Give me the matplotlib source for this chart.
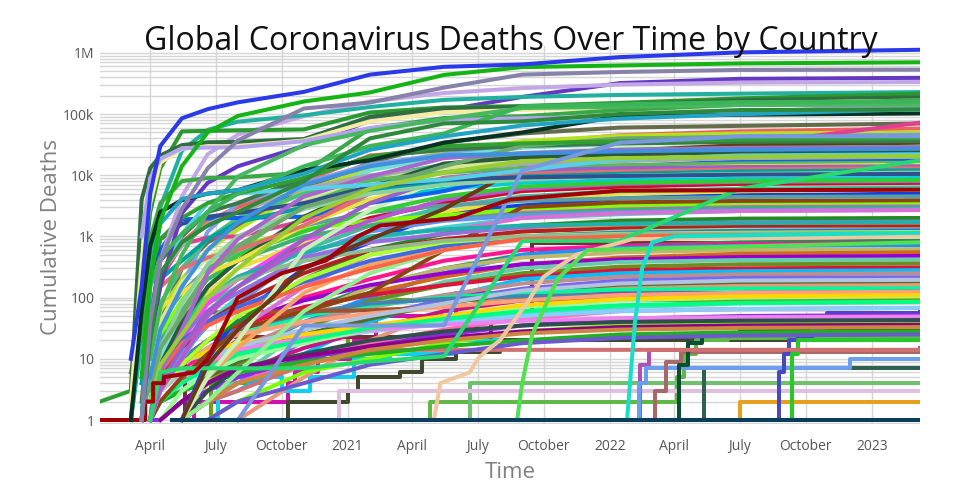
import numpy as np
import pandas as pd
import matplotlib
matplotlib.use('Agg')
import matplotlib.pyplot as plt
from matplotlib.ticker import LogLocator, FixedLocator, NullFormatter

N = None

# common sample dates for the smooth country curves
grid_dates = ['2020-01-22', '2020-03-05', '2020-03-20', '2020-04-01', '2020-04-15', '2020-05-15', '2020-06-20',
              '2020-08-01', '2020-11-01', '2021-02-01', '2021-05-15', '2021-09-01', '2022-01-15', '2022-07-01',
              '2023-03-09']

# countries above 100k
top_colors = ['#6438c0', '#c4a8e6', '#22b0a0', '#2a9a30', '#2f6e40', '#f4eca0', '#3aa846', '#b4a4ee',
              '#48b860', '#063222', '#3cb458', '#20a4c4', '#2e8a3a', '#8682aa', '#14b414', '#2a3ae8']
top_values = [
    [N, N, 1, 20, 150, 2400, 7500, 14000, 30000, 78000, 115000, 190000, 320000, 375000, 390000],
    [N, N, 1, 30, 400, 4500, 22000, 46000, 92000, 160000, 220000, 265000, 302000, 326000, 333000],
    [N, 1, 20, 300, 3000, 25000, 55000, 75000, 95000, 130000, 170000, 190000, 205000, 215000, 228000],
    [N, 1, 150, 2500, 13000, 52000, 53000, 54000, 56000, 106000, 128000, 135000, 152000, 180000, 215000],
    [N, 3, 4000, 13000, 21000, 31000, 34500, 35000, 39000, 90000, 124000, 129000, 142000, 168000, 188000],
    [N, 2, 400, 3500, 16000, 27000, 29500, 30000, 37000, 76000, 107000, 116000, 128000, 150000, 166000],
    [N, N, 20, 900, 3500, 8000, 9000, 9200, 11000, 58000, 86000, 92000, 116000, 141000, 168000],
    [N, N, 1000, 9000, 18500, 27500, 28300, 28500, 36000, 59000, 79000, 85000, 90000, 108000, 140000],
    [N, N, N, 10, 70, 500, 2500, 9500, 31000, 53000, 83000, 125000, 131000, 140000, 142000],
    [N, 1, 60, 700, 2500, 3900, 5000, 5700, 12000, 17600, 34000, 50000, 92000, 97000, 102000],
    [N, N, 1, 150, 450, 1100, 2500, 5000, 14000, 30000, 48000, 134000, 144000, 156000, 160000],
    [N, N, 1, 200, 1600, 4100, 5000, 5700, 10600, 26000, 43000, 65000, 84000, 99000, 120000],
    [N, N, 1, 20, 250, 800, 1500, 2500, 8000, 40000, 70000, 76000, 100000, 116000, 119000],
    [N, N, 1, 40, 400, 2800, 13000, 37000, 123000, 154000, 270000, 440000, 486000, 525000, 531000],
    [N, N, 5, 200, 1800, 14000, 50000, 93000, 160000, 225000, 435000, 583000, 621000, 671000, 699000],
    [N, 10, 150, 5000, 30000, 85000, 120000, 155000, 230000, 440000, 590000, 645000, 850000, 1015000, 1120000],
]

# countries between 10k and 100k
mid_colors = ['#646c4c', '#f06060', '#b8e020', '#80a0e8', '#e04090', '#70e0d0', '#c8f0b8', '#683818',
              '#3a7a4a', '#48c080', '#1060f0', '#a8a8a8', '#d4e890', '#2a5a3a', '#5cb85c', '#f0e040',
              '#9a60c8', '#e07070', '#00a0a0', '#8fd0a0', '#305090', '#6fa86f', '#aa66cc', '#56d0e8',
              '#4090e0', '#9acd32', '#30a030', '#28d870', '#7898e0']
mid_values = [
    [N, N, N, 5, 40, 300, 800, 1500, 6000, 16000, 34000, 48000, 60000, 64000, 70000],
    [N, N, 1, 20, 200, 800, 1800, 3000, 8000, 21000, 26000, 33000, 45000, 52000, 58000],
    [N, N, N, 10, 60, 200, 600, 1300, 5600, 12500, 24000, 36000, 44000, 48000, 50000],
    [N, N, N, 3, 30, 150, 1200, 3500, 7500, 15000, 22000, 30000, 38000, 43000, 46000],
    [N, 6, 33, 60, 200, 740, 960, 1000, 1800, 5700, 11800, 16100, 18400, 31000, 72000],
    [N, N, N, 1, 10, 60, 250, 600, 4000, 12000, 20000, 28000, 33000, 36000, 38000],
    [N, N, N, N, N, 1, 5, 20, 600, 2700, 9000, 23000, 28000, 29500, 31000],
    [N, N, N, N, N, 1, 8, 30, 300, 900, 2800, 14000, 25000, 31000, 34000],
    [N, N, 2, 50, 400, 1000, 2500, 3500, 9000, 20000, 26000, 30000, 33000, 35000, 36000],
    [N, N, N, 10, 80, 300, 900, 2000, 5000, 9000, 15000, 22000, 26000, 28000, 29000],
    [N, N, 1, 30, 600, 1900, 1960, 2000, 2100, 3500, 5500, 10500, 14000, 16800, 17500],
    [N, N, 1, 30, 250, 700, 1600, 2500, 6000, 10000, 12500, 15000, 17000, 19000, 20000],
    [N, N, N, 8, 40, 180, 450, 900, 3800, 8000, 13000, 18000, 23000, 25000, 26000],
    [N, N, N, 1, 8, 40, 150, 400, 2100, 6500, 15500, 19500, 22000, 23500, 24000],
    [N, N, N, 2, 15, 60, 250, 600, 3300, 8200, 11000, 13000, 14600, 15500, 16000],
    [N, N, 1, 20, 70, 120, 250, 400, 1500, 4000, 8000, 10000, 12500, 14000, 14800],
    [N, N, N, 1, 4, 15, 60, 150, 900, 3500, 9000, 12000, 13000, 13600, 14000],
    [N, N, 5, 40, 150, 300, 450, 600, 1500, 5000, 9000, 10500, 11500, 12500, 13000],
    [N, N, 4, 60, 200, 400, 900, 1700, 3000, 5500, 7800, 9500, 10500, 11500, 12000],
    [N, N, N, 2, 15, 80, 350, 1000, 2800, 5000, 7000, 8500, 9800, 10500, 11000],
    [N, 1, 30, 200, 900, 1600, 2100, 2400, 3500, 6500, 8500, 9200, 9700, 10200, 10500],
    [N, N, N, 3, 15, 50, 250, 700, 3000, 6000, 14000, 30000, 40000, 42000, 44000],
    [N, N, N, 1, 6, 30, 250, 900, 4500, 9500, 19000, 23000, 26000, 27500, 28500],
    [N, N, 1, 15, 200, 1100, 3500, 5000, 6000, 7000, 8500, 12000, 18000, 21000, 22000],
    [N, N, N, 5, 30, 150, 600, 1700, 7000, 14000, 21000, 22500, 24500, 26000, 27000],
    [N, N, N, 2, 8, 25, 100, 300, 2000, 6000, 11000, 17000, 19000, 20000, 20500],
    [2, 3, 30, 300, 900, 2000, 3500, 5000, 9000, 20000, 30000, 33000, 36000, 38000, 40000],
    [N, N, N, 1, 6, 7, 7, 7, 7, 9, 11, 840, 850, 6000, 17500],
    [N, N, N, N, N, N, N, 1, 35, 35, 35, 12000, 34000, 43000, 43200],
]

# countries between 1k and 10k
low_colors = ['#c8102e', '#1040e0', '#e8e040', '#40c0a0', '#ff40ff', '#7fff00', '#8b4513', '#48d1cc',
              '#3cb371', '#6495ed', '#da70d6', '#228b22', '#9370db', '#f4a460', '#20b2aa', '#b22222',
              '#90ee90', '#4169e1', '#adff2f', '#8fbc8f', '#ff6347', '#5f9ea0', '#00ced1', '#ba55d3',
              '#32cd32']
low_values = [
    [N, N, N, 1, 10, 40, 100, 200, 800, 2000, 3500, 5500, 6500, 7200, 7500],
    [N, N, N, N, N, 1, 10, 50, 300, 800, 2500, 3200, 4200, 4700, 5000],
    [N, N, 1, 5, 15, 40, 120, 300, 800, 1500, 2500, 4000, 5000, 5500, 5800],
    [N, N, N, 2, 10, 30, 80, 150, 600, 1500, 3000, 4500, 5500, 6000, 6300],
    [N, N, N, 1, 5, 20, 80, 200, 900, 1500, 2000, 2600, 3000, 3300, 3400],
    [N, N, N, 3, 25, 90, 300, 700, 1300, 1800, 2200, 2800, 3200, 3500, 3600],
    [N, N, N, 1, 2, 5, 12, 30, 60, 120, 600, 3000, 3600, 3800, 3900],
    [N, N, N, 1, 3, 10, 40, 100, 400, 900, 1400, 2000, 2300, 2600, 2700],
    [N, N, N, 4, 20, 60, 200, 400, 1000, 1500, 1900, 2300, 2700, 2900, 3000],
    [N, N, N, 1, 4, 12, 35, 80, 500, 1200, 1800, 2200, 2500, 2700, 2800],
    [N, N, N, N, N, 1, 8, 30, 150, 500, 1200, 2000, 2400, 2600, 2700],
    [N, N, N, 2, 4, 8, 20, 40, 200, 600, 1100, 1500, 1800, 1950, 2000],
    [N, N, N, 1, 8, 25, 60, 120, 450, 800, 1100, 1400, 1600, 1700, 1750],
    [N, N, N, N, N, 1, 5, 15, 120, 350, 700, 1200, 1500, 1600, 1650],
    [N, N, N, 1, 15, 45, 100, 220, 550, 1000, 1300, 1500, 1600, 1650, 1700],
    [N, N, N, 1, 5, 15, 40, 80, 250, 600, 900, 1200, 1350, 1420, 1450],
    [N, N, N, N, N, 1, 2, 6, 60, 250, 600, 1000, 1200, 1280, 1300],
    [N, N, N, 2, 8, 20, 40, 70, 180, 400, 700, 1000, 1150, 1230, 1260],
    [N, N, N, 1, 3, 8, 20, 50, 200, 500, 800, 1000, 1100, 1150, 1180],
    [N, N, N, 3, 15, 40, 100, 200, 400, 600, 850, 1000, 1080, 1120, 1140],
    [N, N, N, 1, 6, 18, 35, 60, 150, 300, 600, 900, 1000, 1050, 1080],
    [N, N, 1, 5, 40, 120, 300, 500, 1500, 2500, 3200, 3800, 4200, 4400, 4500],
    [N, N, N, 1, 6, 30, 150, 400, 2000, 4000, 6000, 7500, 8300, 8700, 9000],
    [N, N, N, 1, 3, 10, 50, 150, 700, 1800, 4000, 6000, 7200, 7800, 8000],
    [N, N, N, 2, 10, 35, 150, 500, 1200, 2500, 4500, 6500, 7500, 8000, 8300],
]

# countries under 1k
small_colors = ['#2e8b57', '#ff1493', '#1e90ff', '#bdb76b', '#d2691e', '#9400d3', '#66cdaa', '#6b8e23',
                '#dc143c', '#00bfff', '#bc8f8f', '#7b68ee', '#556b2f', '#e9967a', '#00fa9a', '#c71585',
                '#4682b4', '#a0522d', '#40e0d0', '#ff69b4', '#8a2be2', '#7cfc00', '#d07070', '#20b020',
                '#6a5acd', '#ffa07a', '#87cefa', '#98fb98', '#ee82ee', '#2f4f4f', '#ffd700', '#8b008b',
                '#00ff7f', '#cd853f', '#b0c4de']
small_values = [
    [N, N, N, N, N, 1, 6, 20, 60, 150, 300, 500, 700, 800, 850],
    [N, N, N, 1, 3, 6, 15, 30, 100, 200, 400, 600, 700, 750, 780],
    [N, N, N, 1, 2, 3, 6, 12, 40, 100, 250, 500, 650, 700, 720],
    [N, N, N, N, N, 1, 4, 10, 50, 150, 300, 450, 550, 600, 620],
    [N, N, N, 1, 2, 5, 10, 20, 60, 120, 220, 350, 450, 520, 550],
    [N, N, N, 2, 5, 10, 20, 40, 90, 160, 250, 350, 420, 460, 480],
    [N, N, N, N, N, 1, 2, 5, 30, 80, 180, 300, 380, 410, 420],
    [N, N, N, 1, 1, 2, 4, 8, 30, 90, 160, 250, 320, 350, 360],
    [N, N, N, 1, 4, 10, 20, 35, 70, 110, 160, 220, 280, 300, 310],
    [N, N, N, N, N, 1, 2, 3, 12, 40, 100, 200, 250, 270, 280],
    [N, N, N, 1, 2, 4, 8, 15, 40, 70, 110, 170, 220, 240, 250],
    [N, N, N, N, N, 1, 2, 4, 20, 50, 90, 140, 190, 210, 215],
    [N, N, N, 1, 2, 3, 5, 9, 25, 45, 80, 120, 160, 175, 180],
    [N, N, N, N, N, N, N, 1, 5, 20, 60, 110, 140, 155, 160],
    [N, N, N, 1, 4, 8, 15, 25, 50, 75, 100, 120, 135, 140, 142],
    [N, N, N, 1, 1, 2, 4, 6, 15, 30, 60, 90, 110, 120, 125],
    [N, N, N, 2, 6, 10, 20, 30, 55, 80, 95, 105, 112, 115, 118],
    [N, N, N, 1, 30, 55, 57, 58, 60, 62, 70, 90, 100, 105, 108],
    [N, N, N, 1, 2, 3, 6, 10, 20, 30, 40, 55, 70, 80, 85],
    [N, N, N, N, N, 1, 2, 4, 10, 18, 30, 45, 60, 65, 68],
    [N, N, N, 1, 1, 2, 3, 5, 10, 16, 25, 35, 45, 50, 52],
    [N, N, N, N, N, 1, 1, 2, 6, 10, 18, 28, 35, 38, 40],
    [N, N, N, N, N, 1, 2, 3, 8, 14, 14, 14, 14, 14, 14],
    [N, N, N, 1, 2, 3, 4, 6, 9, 12, 16, 20, 25, 27, 28],
    [N, N, N, N, N, 1, 1, 2, 4, 8, 12, 18, 22, 24, 25],
    [N, N, N, 1, 3, 8, 15, 25, 40, 55, 70, 90, 110, 120, 125],
    [N, N, N, 2, 5, 9, 12, 15, 20, 28, 38, 50, 60, 65, 68],
    [N, N, N, N, 1, 3, 6, 10, 18, 30, 45, 70, 90, 100, 105],
    [N, N, N, 1, 2, 5, 9, 14, 22, 30, 36, 42, 46, 48, 49],
    [N, N, N, N, N, 1, 3, 7, 12, 20, 28, 35, 40, 42, 43],
    [N, N, N, 1, 4, 9, 13, 18, 25, 35, 50, 75, 95, 105, 110],
    [N, N, N, N, 1, 2, 4, 7, 11, 16, 22, 28, 33, 35, 36],
    [N, N, N, 1, 2, 4, 7, 12, 20, 32, 45, 60, 75, 82, 85],
    [N, N, N, N, N, 1, 2, 4, 8, 14, 20, 26, 30, 32, 33],
    [N, N, N, 1, 3, 6, 10, 16, 30, 50, 80, 130, 170, 190, 195],
]

# countries with few deaths, drawn as steps
step_colors = ['#d010b0', '#10d0f0', '#70a010', '#404830', '#60b848', '#70c070', '#e0c0e0', '#7a2a38',
               '#b050b0', '#306050', '#6a9ef0', '#a86868', '#0a5030', '#e8a020', '#4848c0', '#28c828']
step_dates = [
    ['2020-05-15', '2020-06-01', '2020-10-10', '2020-10-20', '2020-11-20', '2021-01-10', '2021-02-10', '2021-06-01', '2023-03-09'],
    ['2020-07-01', '2020-07-05', '2020-10-01', '2020-11-10', '2021-01-10', '2021-03-01', '2021-06-01', '2023-03-09'],
    ['2020-06-15', '2020-06-25', '2020-09-01', '2020-10-15', '2020-12-10', '2021-01-01', '2021-02-01', '2023-03-09'],
    ['2020-10-01', '2020-10-10', '2021-01-01', '2021-01-15', '2021-03-15', '2021-04-15', '2021-06-01', '2021-08-01', '2023-03-09'],
    ['2021-04-15', '2021-04-25', '2022-03-25', '2022-04-05', '2022-04-15', '2022-05-01', '2022-06-15', '2023-03-09'],
    ['2021-06-10', '2021-06-20', '2023-03-09'],
    ['2020-11-15', '2020-12-20', '2023-03-09'],
    ['2020-05-01', '2020-05-20', '2020-07-01', '2021-07-20', '2021-09-15', '2023-03-09'],
    ['2022-02-05', '2022-02-12', '2022-02-25', '2023-03-09'],
    ['2022-05-08', '2022-05-12', '2023-03-09'],
    ['2022-02-01', '2022-02-10', '2022-02-20', '2022-10-25', '2022-12-01', '2023-03-09'],
    ['2022-02-15', '2022-03-05', '2022-03-20', '2022-04-10', '2023-03-09'],
    ['2022-03-28', '2022-04-08', '2022-04-20', '2022-05-10', '2022-07-01', '2023-03-09'],
    ['2022-06-28', '2022-07-02', '2023-03-09'],
    ['2022-08-20', '2022-08-25', '2022-09-01', '2022-09-08', '2022-09-20', '2022-10-10', '2022-10-25', '2022-10-30', '2023-03-09'],
    ['2022-09-05', '2022-09-12', '2022-09-20', '2023-03-09'],
]
step_values = [
    [1, 2, 4, 6, 10, 20, 50, 120, 200],
    [1, 5, 3, 5, 10, 12, 20, 25],
    [1, 4, 8, 10, 12, 40, 90, 150],
    [1, 2, 3, 5, 6, 10, 13, 20, 22],
    [1, 2, 2, 5, 12, 20, 22, 22],
    [1, 4, 4],
    [1, 3, 3],
    [1, 10, 23, 56, 780, 790],
    [1, 8, 14, 15],
    [1, 7, 7],
    [1, 4, 7, 7, 10, 10],
    [1, 3, 9, 13, 13],
    [1, 8, 18, 26, 30, 31],
    [1, 2, 2],
    [1, 6, 12, 20, 23, 31, 38, 55, 58],
    [1, 12, 20, 20],
]

# a few late risers drawn as plain lines
late_colors = ['#f0c8a0', '#50e050', '#18e0c8']
late_dates = [
    ['2021-05-01', '2021-05-10', '2021-06-20', '2021-07-01', '2021-07-15', '2021-08-01', '2021-09-10', '2021-10-01', '2021-11-15', '2022-02-01', '2023-03-09'],
    ['2021-08-25', '2021-09-01', '2021-09-15', '2021-10-20', '2021-12-01', '2023-03-09'],
    ['2022-01-25', '2022-02-05', '2022-02-15', '2022-03-01', '2022-04-01', '2023-03-09'],
]
late_values = [
    [1, 4, 6, 10, 14, 20, 90, 220, 500, 900, 1000],
    [1, 4, 25, 200, 600, 800],
    [1, 40, 300, 800, 1000, 1150],
]

# dark red country with staircase start
red_dates = ['2020-01-22', '2020-03-25', '2020-03-25', '2020-04-05', '2020-04-05', '2020-04-20', '2020-04-20',
             '2020-06-01', '2020-06-20', '2020-07-10', '2020-08-01', '2020-10-01', '2020-12-01', '2021-01-15',
             '2021-02-15', '2021-06-01', '2021-08-15', '2022-01-15', '2023-03-09']
red_values = [1, 1, 2, 2, 4, 4, 5, 6, 10, 30, 100, 250, 400, 1000, 1500, 2000, 4000, 5600, 5800]

# navy country stuck at 1 death
navy_dates = ['2020-05-01', '2023-03-09']
navy_values = [1, 1]

ytick_vals = [1, 10, 100, 1000, 10000, 100000, 1000000]
ytick_text = ['1', '10', '100', '1k', '10k', '100k', '1M']
xtick_dates = ['2020-04-01', '2020-07-01', '2020-10-01', '2021-01-01', '2021-04-01', '2021-07-01',
               '2021-10-01', '2022-01-01', '2022-04-01', '2022-07-01', '2022-10-01', '2023-01-01']
xtick_text = ['April', 'July', 'October', '2021', 'April', 'July', 'October', '2022', 'April', 'July',
              'October', '2023']


def clean(vals):
    return np.array([np.nan if v is None else v for v in vals], dtype=float)


plt.rcParams['font.family'] = ['Open Sans', 'DejaVu Sans']

fig = plt.figure(figsize=(9.6, 5), dpi=100)
ax = fig.add_axes([100 / 960, 1 - 424 / 500, 820 / 960, 378 / 500])

lw = 2.9
gx = pd.to_datetime(grid_dates)

for d, v, c in zip(step_dates, step_values, step_colors):
    ax.plot(pd.to_datetime(d), v, color=c, lw=lw, drawstyle='steps-post')
for c, v in zip(small_colors, small_values):
    ax.plot(gx, clean(v), color=c, lw=lw)
for c, v in zip(low_colors, low_values):
    ax.plot(gx, clean(v), color=c, lw=lw)
for c, v in zip(mid_colors, mid_values):
    ax.plot(gx, clean(v), color=c, lw=lw)
for d, v, c in zip(late_dates, late_values, late_colors):
    ax.plot(pd.to_datetime(d), v, color=c, lw=lw)
ax.plot(pd.to_datetime(red_dates), red_values, color='#a00008', lw=lw)
for c, v in zip(top_colors, top_values):
    ax.plot(gx, clean(v), color=c, lw=lw)
ax.plot(pd.to_datetime(navy_dates), navy_values, color='#0a3c5c', lw=lw)

ax.set_yscale('log')
ax.set_ylim(10 ** (-4 / 61.2), 10 ** (374 / 61.2))
ax.set_xlim(pd.Timestamp('2020-01-22'), pd.Timestamp('2023-03-09'))

ax.yaxis.set_major_locator(FixedLocator(ytick_vals))
ax.set_yticklabels(ytick_text)
ax.yaxis.set_minor_locator(LogLocator(base=10, subs=np.arange(2, 10)))
ax.yaxis.set_minor_formatter(NullFormatter())
ax.set_xticks(pd.to_datetime(xtick_dates))
ax.set_xticklabels(xtick_text)

ax.grid(True, which='major', color='#d6d6d6', lw=1)
ax.grid(True, which='minor', axis='y', color='#d6d6d6', lw=1)
ax.set_axisbelow(True)
ax.tick_params(axis='y', which='both', length=0, labelsize=10, colors='#555555', pad=4)
ax.tick_params(axis='x', which='both', length=0, labelsize=10, colors='#555555', pad=11)
for s in ax.spines.values():
    s.set_visible(False)

fig.text(511 / 960, 1 - 42 / 500, 'Global Coronavirus Deaths Over Time by Country', ha='center', va='center',
         fontsize=23, color='#111111')
fig.text(52 / 960, 1 - 237 / 500, 'Cumulative Deaths', rotation=90, ha='center', va='center',
         fontsize=16, color='#808080')
fig.text(510 / 960, 1 - 472 / 500, 'Time', ha='center', va='center', fontsize=16, color='#808080')

fig.savefig('out.png', dpi=100)
